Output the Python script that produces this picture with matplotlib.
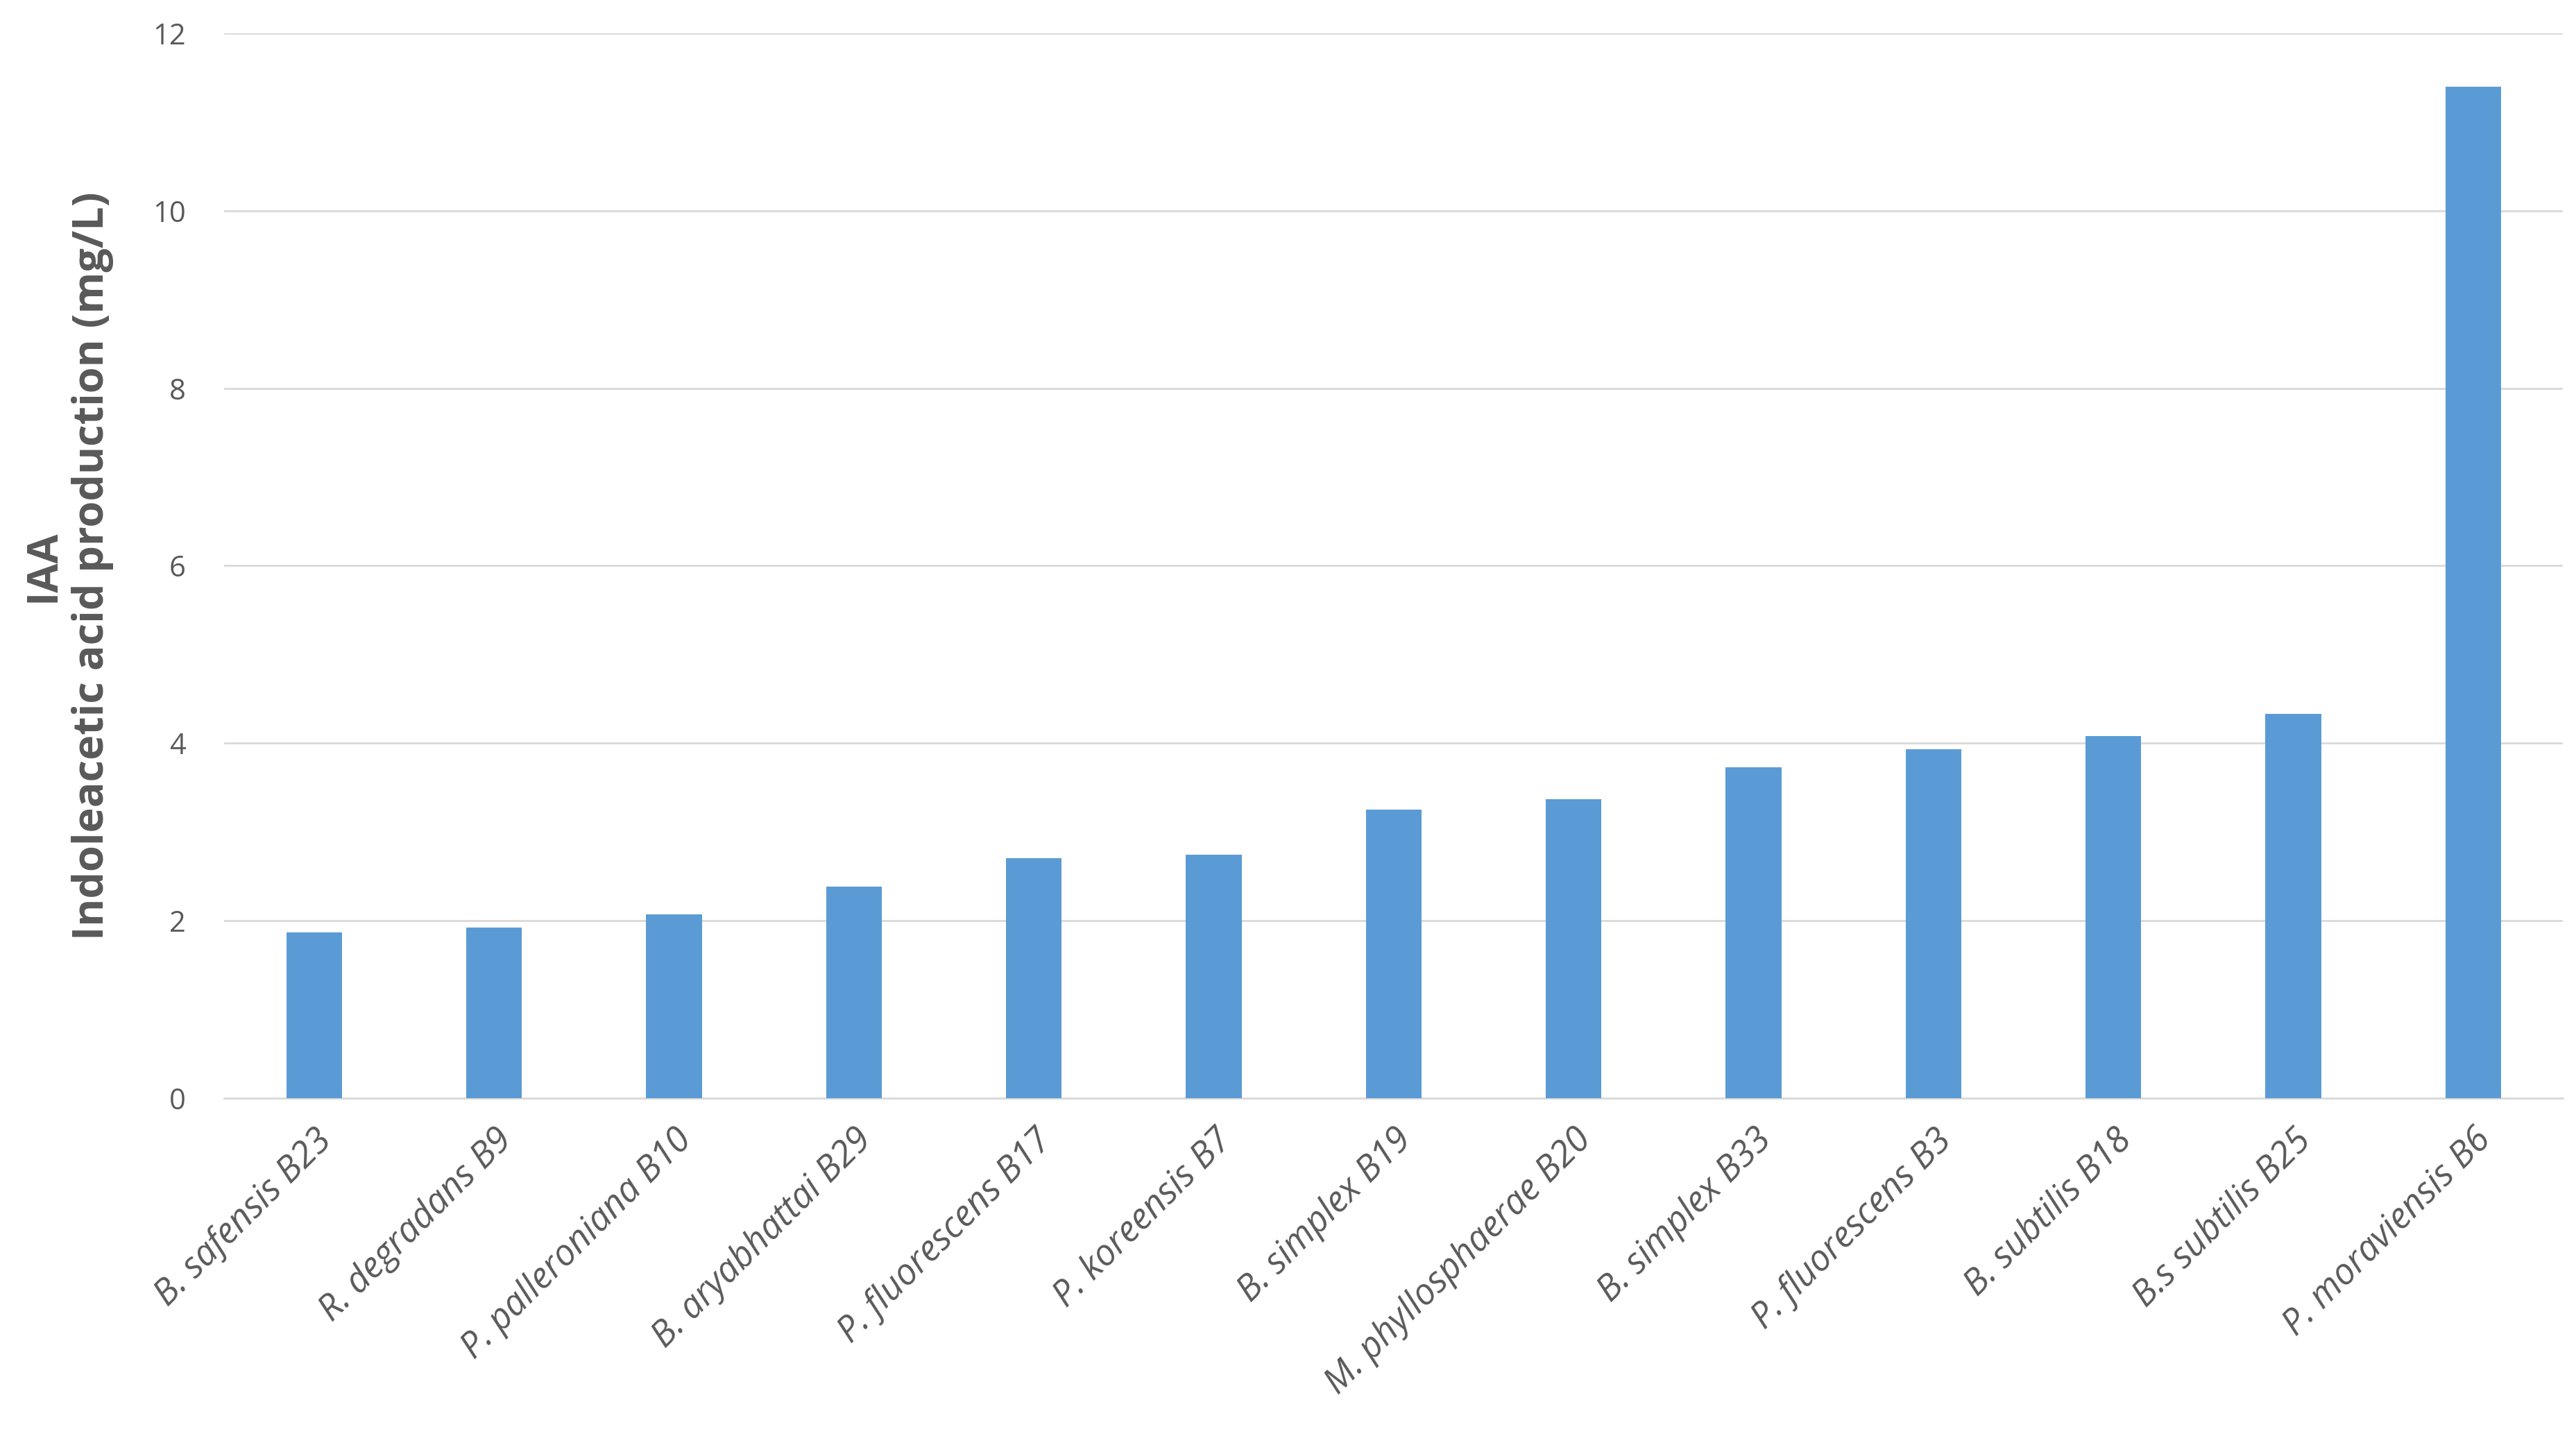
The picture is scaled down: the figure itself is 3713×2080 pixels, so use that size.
import matplotlib.pyplot as plt

strains = ['B. safensis B23', 'R. degradans B9', 'P. palleroniana B10', 'B. aryabhattai B29',
           'P. fluorescens B17', 'P. koreensis B7', 'B. simplex B19', 'M. phyllosphaerae B20',
           'B. simplex B33', 'P. fluorescens B3', 'B. subtilis B18', 'B.s subtilis B25',
           'P. moraviensis B6']
iaa = [1.87, 1.92, 2.07, 2.38, 2.70, 2.74, 3.25, 3.37, 3.73, 3.93, 4.08, 4.33, 11.4]

plt.rcParams['font.family'] = ['Open Sans', 'DejaVu Sans']
fig = plt.figure(figsize=(37.13, 20.8), dpi=100)
ax = fig.add_axes([0.087, 0.239, 0.908, 0.738])

x = range(len(strains))
ax.bar(x, iaa, width=0.31, color='#5B9BD5', zorder=3)

ax.set_ylim(0, 12)
ax.set_yticks(range(0, 13, 2))
ax.set_xlim(-0.5, len(strains) - 0.5)
ax.yaxis.grid(True, color='#D9D9D9', linewidth=2, zorder=0)
for s in ['top', 'right', 'left']:
    ax.spines[s].set_visible(False)
ax.spines['bottom'].set_color('#D9D9D9')
ax.spines['bottom'].set_linewidth(2)
ax.tick_params(axis='y', length=0, labelsize=30, labelcolor='#595959', pad=40)
ax.tick_params(axis='x', length=0, labelsize=37, labelcolor='#595959', pad=25)
ax.set_xticks(list(x))
ax.set_xticklabels(strains, rotation=45, ha='right', rotation_mode='anchor', style='italic')
ax.set_ylabel('IAA\nIndoleacetic acid production (mg/L)', fontsize=44, fontweight='bold',
              color='#595959', labelpad=40)

fig.savefig('out.png', dpi=100)
